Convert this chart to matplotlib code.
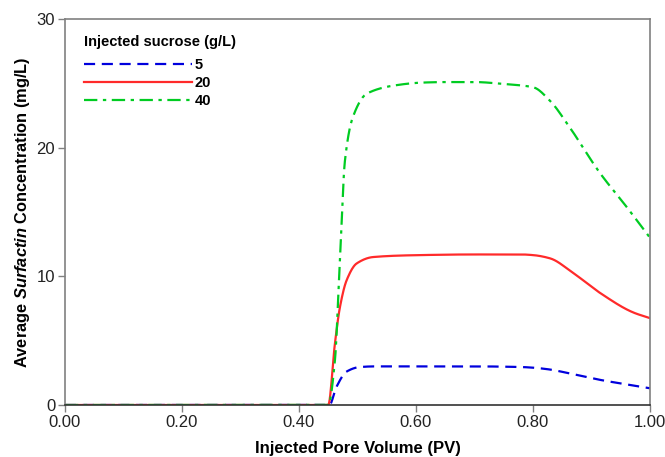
import numpy as np
import matplotlib
matplotlib.use("Agg")
import matplotlib.pyplot as plt

plt.rcParams['font.family'] = ['Liberation Sans', 'DejaVu Sans']
plt.rcParams['mathtext.fontset'] = 'custom'
plt.rcParams['mathtext.rm'] = 'Liberation Sans:bold'
plt.rcParams['mathtext.it'] = 'Liberation Sans:italic:bold'

# surfactin concentration profiles vs injected pore volume
pv_5 = [0.0, 0.452, 0.464, 0.4815, 0.504, 0.53, 0.60, 0.70, 0.78, 0.80,
        0.83, 0.858, 0.915, 0.96, 1.0]
c_5 = [0.0, 0.0, 1.4, 2.6, 2.95, 3.0, 3.0, 3.0, 2.95, 2.9,
       2.75, 2.5, 1.95, 1.6, 1.3]

pv_20 = [0.0, 0.45, 0.4615, 0.470, 0.4815, 0.4986, 0.527, 0.607, 0.70, 0.78, 0.80,
         0.829, 0.869, 0.915, 0.971, 1.0]
c_20 = [0.0, 0.0, 4.8, 7.6, 9.7, 11.0, 11.5, 11.65, 11.7, 11.7, 11.65,
        11.4, 10.25, 8.7, 7.2, 6.75]

pv_40 = [0.0, 0.45, 0.4615, 0.470, 0.4786, 0.4923, 0.516, 0.573, 0.607, 0.65, 0.70,
         0.75, 0.80, 0.83, 0.858, 0.915, 0.96, 1.0]
c_40 = [0.0, 0.0, 3.5, 11.3, 19.0, 22.4, 24.2, 24.9, 25.05, 25.1, 25.1,
        24.95, 24.7, 23.6, 21.9, 18.0, 15.4, 13.0]

labels = ['5', '20', '40']


def smooth(x, y, n=400):
    # monotone piecewise cubic (Fritsch-Carlson) so the curves stay smooth
    x = np.asarray(x, float)
    y = np.asarray(y, float)
    h = np.diff(x)
    d = np.diff(y) / h
    m = np.zeros_like(y)
    m[0], m[-1] = d[0], d[-1]
    for i in range(1, len(x) - 1):
        if d[i - 1] * d[i] <= 0:
            m[i] = 0
        else:
            w1 = 2 * h[i] + h[i - 1]
            w2 = h[i] + 2 * h[i - 1]
            m[i] = (w1 + w2) / (w1 / d[i - 1] + w2 / d[i])
    xs = np.linspace(x[0], x[-1], n)
    idx = np.clip(np.searchsorted(x, xs) - 1, 0, len(x) - 2)
    t = (xs - x[idx]) / h[idx]
    h00 = 2 * t**3 - 3 * t**2 + 1
    h10 = t**3 - 2 * t**2 + t
    h01 = -2 * t**3 + 3 * t**2
    h11 = t**3 - t**2
    ys = h00 * y[idx] + h10 * h[idx] * m[idx] + h01 * y[idx + 1] + h11 * h[idx] * m[idx + 1]
    return xs, ys


fig = plt.figure(figsize=(6.65, 4.57), dpi=100)
ax = fig.add_axes([0.0977, 0.1138, 0.8797, 0.8446])

x, y = smooth(pv_5, c_5, 1000)
ax.plot(x, y, color='#0000dd', lw=1.6, ls=(0, (5, 3)), label=labels[0])
x, y = smooth(pv_20, c_20, 1000)
ax.plot(x, y, color='#ff2a2a', lw=1.6, ls='-', label=labels[1])
x, y = smooth(pv_40, c_40, 1000)
ax.plot(x, y, color='#00cc22', lw=1.6, ls=(0, (6, 2.5, 1.5, 2.5)), label=labels[2])

ax.set_xlim(0, 1.0)
ax.set_ylim(0, 30)
ax.set_xticks([0, 0.2, 0.4, 0.6, 0.8, 1.0])
ax.set_xticklabels(['0.00', '0.20', '0.40', '0.60', '0.80', '1.00'])
ax.set_yticks([0, 10, 20, 30])

for s in ax.spines.values():
    s.set_color('#808080')
    s.set_linewidth(1.2)
ax.spines['bottom'].set_color('#333333')
ax.tick_params(direction='out', length=5, width=1, color='#808080',
               labelsize=12, labelcolor='#222222', pad=2)

ax.set_xlabel('Injected Pore Volume (PV)', fontsize=12, fontweight='bold', labelpad=8)
ax.set_ylabel(r'Average $\mathit{Surfactin}$ Concentration (mg/L)', fontsize=11.8,
              fontweight='bold', labelpad=3)

leg = ax.legend(title='Injected sucrose (g/L)', loc='upper left', frameon=False,
                handlelength=7.4, handletextpad=0.2, labelspacing=0.27,
                prop={'weight': 'bold', 'size': 10.5},
                bbox_to_anchor=(0.017, 0.98), borderaxespad=0.2)
leg.get_title().set_fontweight('bold')
leg.get_title().set_fontsize(10.5)
leg._legend_box.align = 'left'
leg._legend_box.sep = 6

fig.savefig('out.png', dpi=100)
